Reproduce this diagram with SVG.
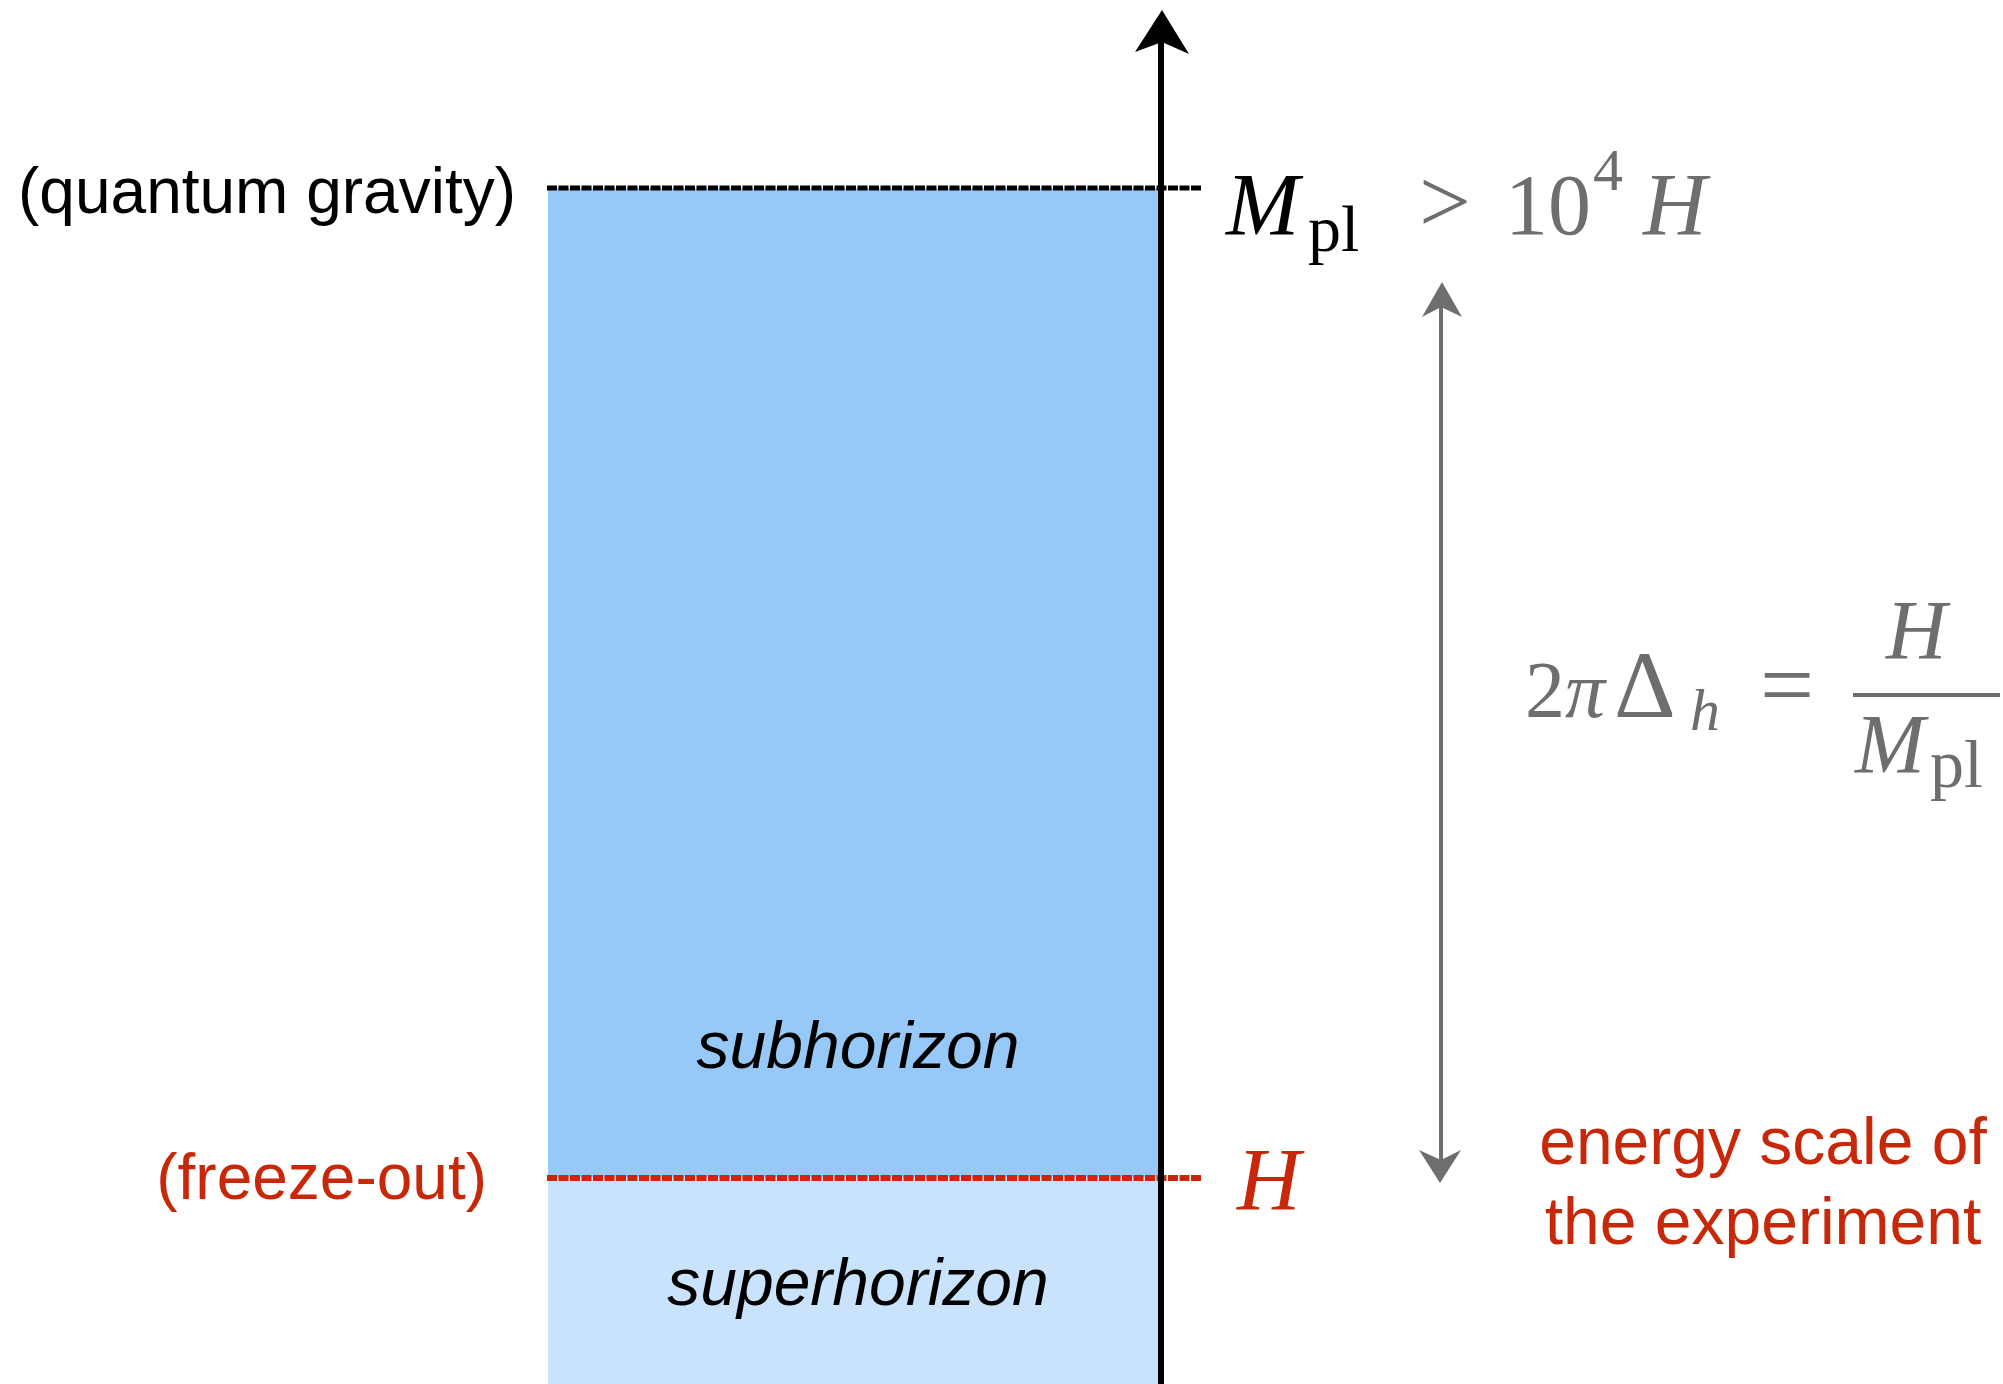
<svg xmlns="http://www.w3.org/2000/svg" width="2003" height="1384" viewBox="0 0 2003 1384">
<style>
.lbl{font-family:"Liberation Sans",Arial,sans-serif;font-size:64px}
.lbl66{font-family:"Liberation Sans",Arial,sans-serif;font-size:66px}
.math{font-family:"Liberation Serif","Times New Roman",serif}
.it{font-style:italic}
.gray{fill:#6e6e6e}
.red{fill:#c8280a}
</style>
<rect width="2003" height="1384" fill="#ffffff"/>
<g id="subhorizon-region">
<rect x="548" y="188" width="612" height="989" fill="#97c9f8"/>
<text class="lbl66 it" x="858" y="1068" text-anchor="middle" fill="#000">subhorizon</text>
</g>
<g id="superhorizon-region">
<rect x="548" y="1177" width="612" height="207" fill="#cae3fc"/>
<text class="lbl66 it" x="858" y="1305" text-anchor="middle" fill="#000">superhorizon</text>
</g>
<g id="connectors">
<line x1="547" y1="188" x2="1201" y2="188" stroke="#000" stroke-width="5" stroke-dasharray="10 1.5"/>
<line x1="547" y1="1178" x2="1201" y2="1178" stroke="#c8280a" stroke-width="6" stroke-dasharray="10 1.5"/>
<line x1="1161" y1="40" x2="1161" y2="1384" stroke="#000" stroke-width="6"/>
<polygon points="1162,10 1189,54 1162,42 1135,52" fill="#000"/>
<line x1="1441" y1="300" x2="1441" y2="1165" stroke="#6e6e6e" stroke-width="4"/>
<polygon points="1442,282 1462,317 1441,307 1422,317" fill="#6e6e6e"/>
<polygon points="1440,1183 1461,1150 1441,1160 1419,1150" fill="#6e6e6e"/>
</g>
<g id="quantum-gravity">
<text class="lbl" x="516" y="213" text-anchor="end" fill="#000">(quantum gravity)</text>
<text class="math it" x="1226" y="234" font-size="88" fill="#000">M</text>
<text class="math" x="1308" y="251" font-size="66" fill="#000">pl</text>
<text class="math gray" x="1419" y="232" font-size="92">&gt;</text>
<text class="math gray" x="1505" y="234" font-size="86">10</text>
<text class="math gray" x="1593" y="190" font-size="60">4</text>
<text class="math gray it" x="1643" y="234" font-size="88">H</text>
</g>
<g id="freeze-out">
<text class="lbl red" x="487" y="1199" text-anchor="end">(freeze-out)</text>
<text class="math it red" x="1237" y="1209" font-size="88">H</text>
</g>
<g id="experiment-label">
<text class="lbl66 red" x="1763" y="1164" text-anchor="middle">energy scale of</text>
<text class="lbl66 red" x="1763" y="1244" text-anchor="middle">the experiment</text>
</g>
<g id="ratio-equation">
<text class="math gray" x="1525" y="717" font-size="80">2<tspan font-style="italic">π</tspan></text>
<text class="math gray" x="1614" y="717" font-size="96">Δ</text>
<text class="math gray it" x="1690" y="730" font-size="60">h</text>
<text class="math gray" x="1760" y="717" font-size="96">=</text>
<line x1="1853" y1="695" x2="2000" y2="695" stroke="#6e6e6e" stroke-width="4"/>
<text class="math gray it" x="1886" y="659" font-size="84">H</text>
<text class="math gray it" x="1855" y="773" font-size="84">M</text>
<text class="math gray" x="1930" y="787" font-size="68">pl</text>
</g>
</svg>
